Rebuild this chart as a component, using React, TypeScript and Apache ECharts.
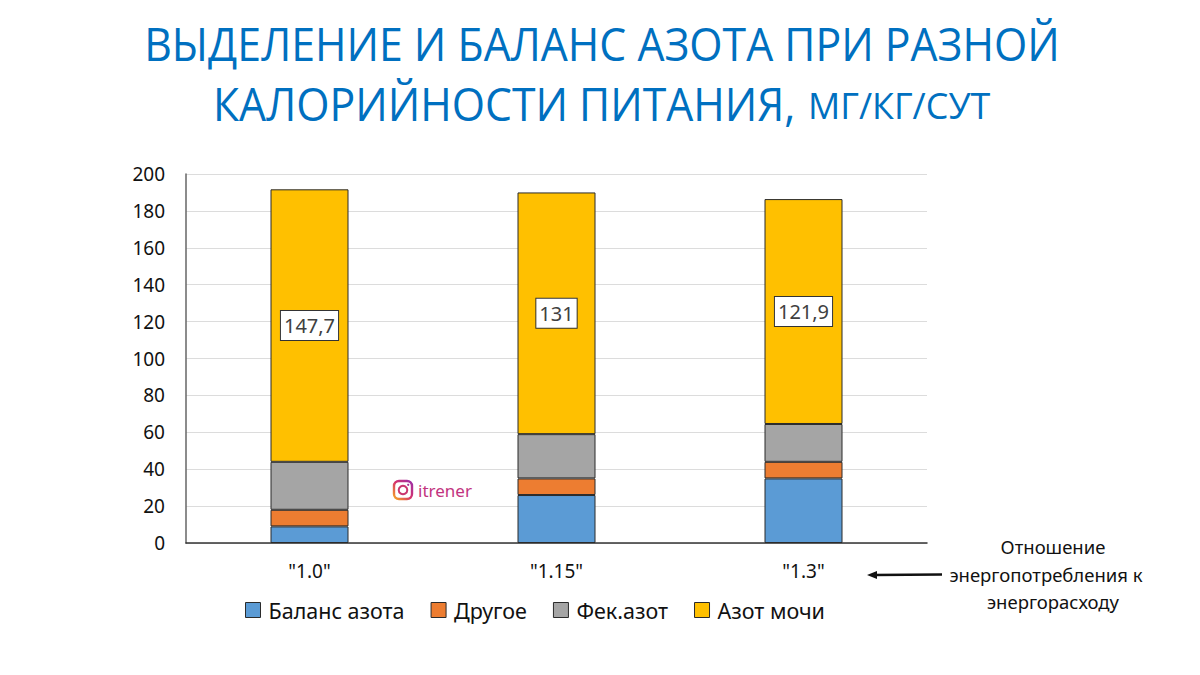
import React, { useEffect, useRef } from "react";
import * as echarts from "echarts";

const categories = ['"1.0"', '"1.15"', '"1.3"'];
const balance = [9, 26, 35];
const other = [9, 9, 9];
const fecal = [26, 24, 20.5];
const urine = [147.7, 131, 121.9];
const FONT = "'Open Sans', 'Noto Sans', sans-serif";
const BODY = "'Noto Sans', 'Open Sans', sans-serif";

const mkSeries = (name: string, data: number[], color: string, label = false) => ({
  name,
  type: "bar",
  stack: "n",
  data,
  barWidth: 78,
  itemStyle: { color, borderColor: "#2b2b2b", borderWidth: 1 },
  label: label
    ? {
        show: true,
        position: "inside",
        formatter: (p: any) => String(p.value).replace(".", ","),
        backgroundColor: "#fff",
        borderColor: "#333",
        borderWidth: 1,
        color: "#404040",
        fontFamily: BODY,
        fontSize: 20,
        padding: [5, 3, 4, 3],
      }
    : { show: false },
});

export default function App() {
  const ref = useRef<HTMLDivElement>(null);
  useEffect(() => {
    document.body.style.margin = "0";
    const chart = echarts.init(ref.current!, null, { renderer: "svg" });
    chart.setOption({
      animation: false,
      backgroundColor: "#fff",
      grid: { left: 186, right: 273, top: 174, bottom: 132, containLabel: false },
      xAxis: {
        type: "category",
        data: categories,
        axisTick: { show: false },
        axisLine: { lineStyle: { color: "#333", width: 1.5 } },
        axisLabel: { color: "#111", fontFamily: BODY, fontSize: 19, margin: 18 },
      },
      yAxis: {
        type: "value",
        min: 0,
        max: 200,
        interval: 20,
        axisLine: { show: true, lineStyle: { color: "#666", width: 1.5 } },
        axisTick: { show: false },
        axisLabel: { color: "#111", fontFamily: BODY, fontSize: 19, margin: 21 },
        splitLine: { lineStyle: { color: "#dcdcdc", width: 1 } },
      },
      legend: {
        left: 240,
        top: 594,
        icon: "rect",
        itemWidth: 15,
        itemHeight: 15,
        itemGap: 26,
        itemStyle: { borderColor: "#2b2b2b", borderWidth: 1 },
        textStyle: { color: "#111", fontFamily: BODY, fontSize: 21.5, padding: [0, 0, 0, 3] },
        data: ["Баланс азота", "Другое", "Фек.азот", "Азот мочи"],
      },
      series: [
        mkSeries("Баланс азота", balance, "#5B9BD5"),
        mkSeries("Другое", other, "#ED7D31"),
        mkSeries("Фек.азот", fecal, "#A5A5A5"),
        mkSeries("Азот мочи", urine, "#FFC000", true),
      ],
      graphic: [
        {
          type: "text",
          x: 602,
          y: 43,
          scaleX: 0.93,
          style: { text: "ВЫДЕЛЕНИЕ И БАЛАНС АЗОТА ПРИ РАЗНОЙ", fill: "#0070C0", font: `46px ${FONT}`, textAlign: "center", textVerticalAlign: "middle" },
        },
        {
          type: "text",
          x: 213,
          y: 103,
          scaleX: 0.93,
          style: { text: "КАЛОРИЙНОСТИ ПИТАНИЯ,", fill: "#0070C0", font: `46px ${FONT}`, textAlign: "left", textVerticalAlign: "middle" },
        },
        {
          type: "text",
          x: 808,
          y: 105,
          scaleX: 0.97,
          style: { text: "МГ/КГ/СУТ", fill: "#0070C0", font: `37px ${FONT}`, textAlign: "left", textVerticalAlign: "middle" },
        },
        { type: "text", x: 1053, y: 546.5, style: { text: "Отношение", fill: "#111", font: `18.5px ${BODY}`, textAlign: "center", textVerticalAlign: "middle" } },
        { type: "text", x: 1046, y: 574, style: { text: "энергопотребления к", fill: "#111", font: `18.5px ${BODY}`, textAlign: "center", textVerticalAlign: "middle" } },
        { type: "text", x: 1053, y: 601, style: { text: "энергорасходу", fill: "#111", font: `18.5px ${BODY}`, textAlign: "center", textVerticalAlign: "middle" } },
        { type: "line", shape: { x1: 874, y1: 575, x2: 942, y2: 574.5 }, style: { stroke: "#111", lineWidth: 2.5 } },
        { type: "polygon", shape: { points: [[867, 575], [877, 571], [877, 579]] }, style: { fill: "#111" } },
        {
          type: "rect",
          shape: { x: 394, y: 481, width: 18, height: 18, r: 5 },
          style: {
            fill: "none",
            lineWidth: 2.4,
            stroke: new echarts.graphic.LinearGradient(0, 1, 1, 0, [
              { offset: 0, color: "#F5A623" },
              { offset: 0.5, color: "#D6336C" },
              { offset: 1, color: "#9B2FA8" },
            ]),
          },
        },
        { type: "circle", shape: { cx: 403, cy: 490, r: 4.3 }, style: { fill: "none", stroke: "#C9356F", lineWidth: 2 } },
        { type: "circle", shape: { cx: 408.2, cy: 484.8, r: 1.1 }, style: { fill: "#A8329A" } },
        { type: "text", x: 418, y: 490, style: { text: "itrener", fill: "#C2347F", font: `17px ${BODY}`, textAlign: "left", textVerticalAlign: "middle" } },
      ],
    });
    return () => chart.dispose();
  }, []);
  return <div ref={ref} style={{ width: 1200, height: 675 }} />;
}
